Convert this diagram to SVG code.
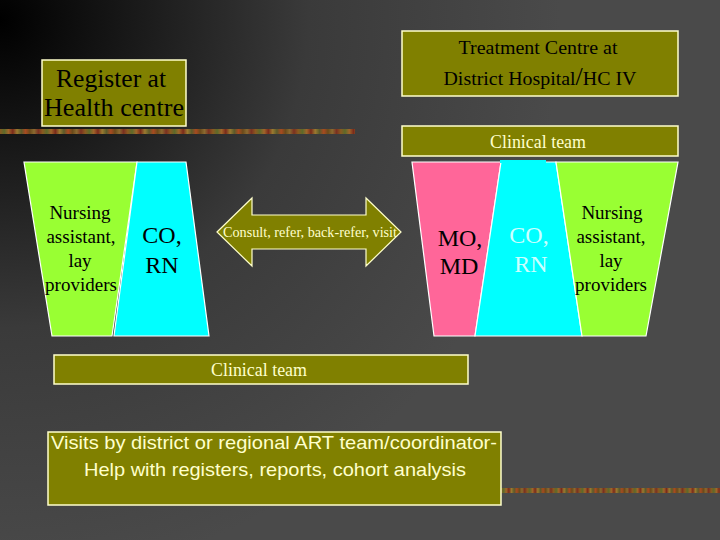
<svg xmlns="http://www.w3.org/2000/svg" width="720" height="540" viewBox="0 0 720 540">
<defs>
<radialGradient id="bg" cx="0" cy="20" r="560" gradientUnits="userSpaceOnUse">
<stop offset="0" stop-color="#000"/>
<stop offset="0.55" stop-color="#3a3a3a"/>
<stop offset="1" stop-color="#4a4a4a"/>
</radialGradient>
<linearGradient id="stripe" x1="0" y1="0" x2="0.12" y2="0" spreadMethod="repeat">
<stop offset="0" stop-color="#8a5a20"/>
<stop offset="0.1" stop-color="#5c6a2a"/>
<stop offset="0.2" stop-color="#a0652a"/>
<stop offset="0.3" stop-color="#7a2a1a"/>
<stop offset="0.4" stop-color="#9a7a30"/>
<stop offset="0.5" stop-color="#5a5a2a"/>
<stop offset="0.6" stop-color="#a84a20"/>
<stop offset="0.7" stop-color="#6a4a1a"/>
<stop offset="0.8" stop-color="#8a6a30"/>
<stop offset="0.9" stop-color="#7a3020"/>
<stop offset="1" stop-color="#8a5a20"/>
</linearGradient>
<style>
.box{fill:#808000;stroke:#ffffcc;stroke-width:1.5}
.ser{font-family:"Liberation Serif","Times New Roman",serif;text-anchor:middle}
.blk{fill:#000}
.cream{fill:#ffffcc}
.trap{stroke:#ffffff;stroke-width:1.2}
</style>
</defs>
<rect width="720" height="540" fill="url(#bg)"/>
<rect x="0" y="129" width="355" height="5" fill="url(#stripe)"/>
<rect x="501" y="488" width="219" height="5" fill="url(#stripe)"/>

<g id="register">
<rect class="box" x="42" y="60" width="144" height="66"/>
<text class="ser blk" x="111" y="87" font-size="25" textLength="110" lengthAdjust="spacingAndGlyphs">Register at</text>
<text class="ser blk" x="114" y="116" font-size="25" textLength="140" lengthAdjust="spacingAndGlyphs">Health centre</text>
</g>

<g id="treatment">
<rect class="box" x="402" y="31" width="276" height="65"/>
<text class="ser blk" x="538" y="54" font-size="19" textLength="159" lengthAdjust="spacingAndGlyphs">Treatment Centre at</text>
<text class="ser blk" x="540" y="85" font-size="19" textLength="193" lengthAdjust="spacingAndGlyphs">District Hospital<tspan font-size="25">/</tspan>HC IV</text>
</g>

<g id="clinical-top">
<rect class="box" x="402" y="126" width="276" height="30"/>
<text class="ser cream" x="538" y="148" font-size="18" textLength="96" lengthAdjust="spacingAndGlyphs">Clinical team</text>
</g>

<g id="left-nursing">
<polygon class="trap" points="24,162 137,162 112,336 52,336" fill="#99ff33"/>
<text class="ser blk" font-size="19"><tspan x="80" y="219">Nursing</tspan><tspan x="81" y="243">assistant,</tspan><tspan x="80" y="267">lay</tspan><tspan x="81" y="291">providers</tspan></text>
</g>

<g id="left-co">
<polygon class="trap" points="137,162 186,162 209,336 114,336" fill="#00ffff"/>
<text class="ser blk" font-size="24"><tspan x="162" y="243">CO,</tspan><tspan x="162" y="273">RN</tspan></text>
</g>

<g id="connectors">
<polygon points="217,232 252,198 252,215 366,215 366,198 401,232 366,266 366,249 252,249 252,266" fill="#808000" stroke="#ffffcc" stroke-width="1.2"/>
<text class="ser cream" x="310" y="237" font-size="14" textLength="174" lengthAdjust="spacingAndGlyphs">Consult, refer, back-refer, visit</text>
</g>

<g id="right-mo">
<polygon class="trap" points="412,162 501,162 475,336 434,336" fill="#ff6699"/>
<text class="ser blk" font-size="24"><tspan x="460" y="246">MO,</tspan><tspan x="459" y="274">MD</tspan></text>
</g>

<g id="right-co">
<polygon class="trap" points="501,162 556,162 582,336 475,336" fill="#00ffff"/>
<rect x="500" y="160" width="46" height="3" fill="#00ffff"/>
<text class="ser" fill="#ccffff" font-size="24"><tspan x="529" y="243">CO,</tspan><tspan x="531" y="272">RN</tspan></text>
</g>

<g id="right-nursing">
<polygon class="trap" points="556,162 678,162 646,336 582,336" fill="#99ff33"/>
<text class="ser blk" font-size="19"><tspan x="612" y="219">Nursing</tspan><tspan x="611" y="243">assistant,</tspan><tspan x="611" y="267">lay</tspan><tspan x="611" y="291">providers</tspan></text>
</g>

<g id="clinical-bottom">
<rect class="box" x="54" y="355" width="414" height="29"/>
<text class="ser cream" x="259" y="376" font-size="18" textLength="96" lengthAdjust="spacingAndGlyphs">Clinical team</text>
</g>

<g id="visits">
<rect class="box" x="48" y="432" width="453" height="73"/>
<text font-family="'Liberation Sans',Arial,sans-serif" font-size="19" text-anchor="middle" class="cream"><tspan x="274" y="449" textLength="446" lengthAdjust="spacingAndGlyphs">Visits by district or regional ART team/coordinator-</tspan><tspan x="275" y="476" textLength="382" lengthAdjust="spacingAndGlyphs">Help with registers, reports, cohort analysis</tspan></text>
</g>
</svg>
